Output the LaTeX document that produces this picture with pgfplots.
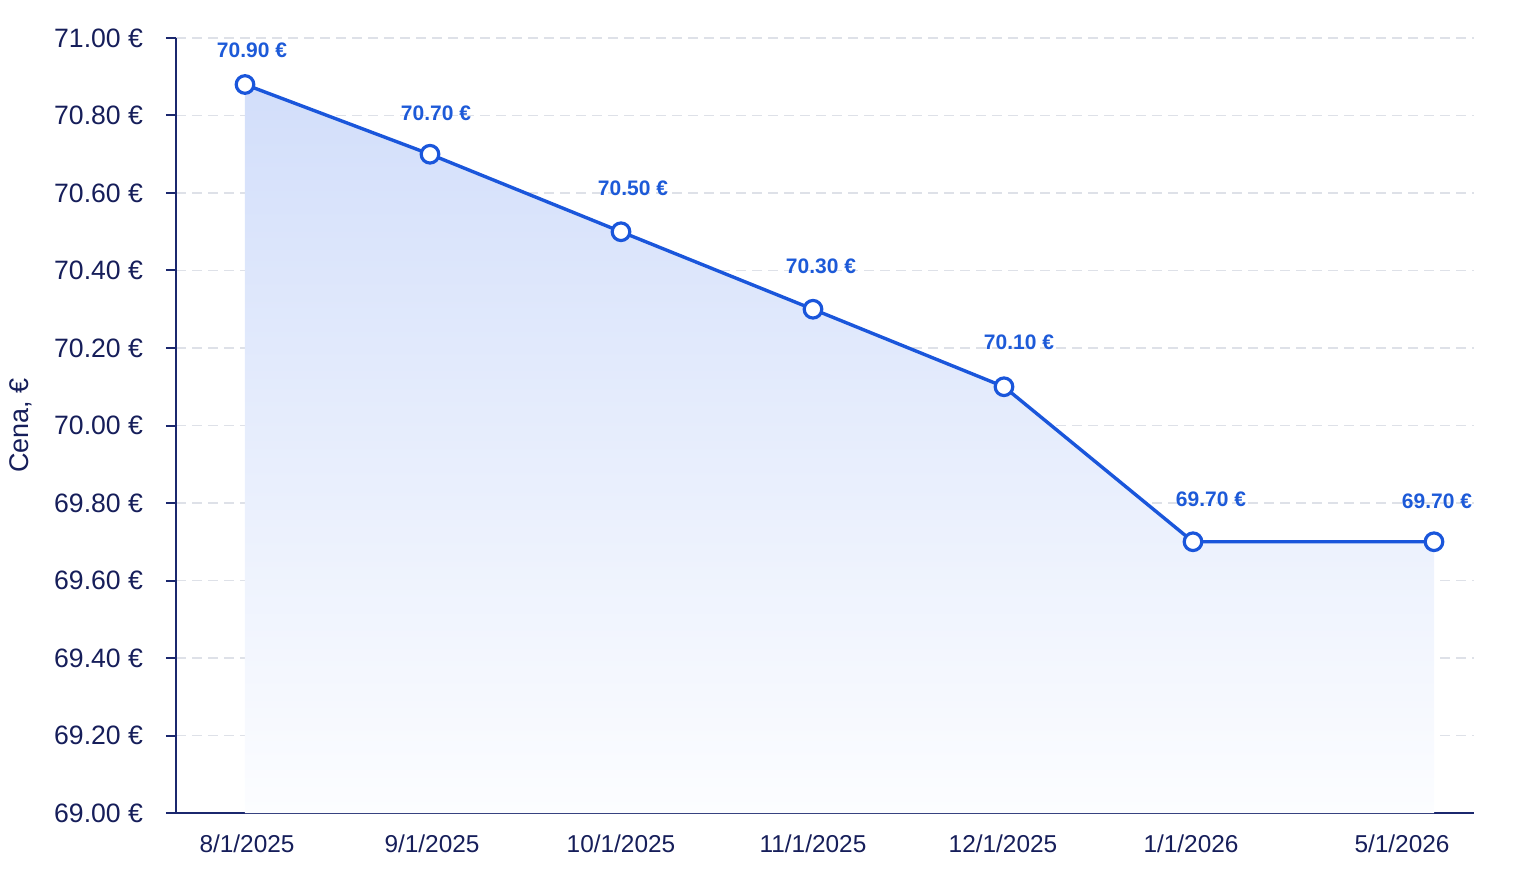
\documentclass[border=0pt]{standalone}
\usepackage{fontspec}
\setmainfont{Liberation Sans}
\usepackage{pgfplots}
\usepackage{pgfplotstable}
\pgfplotsset{compat=1.18}
\definecolor{navy}{RGB}{22,30,90}
\definecolor{axisnavy}{RGB}{27,40,110}
\definecolor{lineblue}{RGB}{26,86,219}
\definecolor{labelblue}{RGB}{29,90,216}
\definecolor{gridgray}{RGB}{222,225,232}
\definecolor{filltop}{RGB}{210,222,250}
\definecolor{fillbot}{RGB}{252,253,255}
\pgfplotstableread[col sep=comma]{
x,y,dx,dy,label
69,70.88,3.5,16.9,70.90 €
254,70.70,3,20.3,70.70 €
445,70.50,6,21.5,70.50 €
637,70.30,4,21.7,70.30 €
828,70.10,7.5,22,70.10 €
1017,69.70,9,21,69.70 €
1258,69.70,1.5,20,69.70 €
}\pricedata
\begin{document}
\begin{tikzpicture}
\useasboundingbox (-88pt,-30.5pt) rectangle (680pt,406.5pt);
\begin{axis}[
  at={(0,0)}, anchor=south west,
  scale only axis, width=649pt, height=387.5pt,
  xmin=0, xmax=1298, ymin=69, ymax=71,
  axis lines=left,
  x axis line style={-}, y axis line style={-},
  axis line style={axisnavy, line width=1pt},
  ytick={69,69.2,69.4,69.6,69.8,70,70.2,70.4,70.6,70.8,71},
  yticklabel={\pgfmathprintnumber[fixed,fixed zerofill,precision=2]{\tick}~€},
  ymajorgrids,
  grid style={gridgray, dash pattern=on 5pt off 3pt, line width=0.6pt},
  xtick={71,256,445,637,827,1015,1226},
  xticklabels={8/1/2025,9/1/2025,10/1/2025,11/1/2025,12/1/2025,1/1/2026,5/1/2026},
  x tick style={draw=none},
  y tick style={axisnavy, line width=1pt},
  tick align=outside, major tick length=5pt,
  /pgf/number format/assume math mode=true,
  yticklabel style={font=\fontsize{13.3}{16}\selectfont, text=navy, xshift=-8pt},
  xticklabel style={font=\fontsize{12.2}{15}\selectfont, text=navy, yshift=-2.5pt},
  ylabel={Cena, €},
  ylabel style={at={(axis description cs:-0.1194,0.5)}, anchor=center, font=\fontsize{13.5}{16}\selectfont, text=navy},
  clip=false,
]
\addplot[draw=none, top color=filltop, bottom color=fillbot, forget plot]
  table[x=x, y=y]{\pricedata} \closedcycle;
\addplot[lineblue, line width=1.7pt, mark=*, mark size=4.4pt,
  mark options={fill=white, draw=lineblue, line width=1.6pt},
  nodes near coords, point meta=explicit symbolic,
  visualization depends on={\thisrow{dx} \as \dx},
  visualization depends on={\thisrow{dy} \as \dy},
  every node near coord/.style={font=\bfseries\fontsize{10.5}{12}\selectfont, text=labelblue, anchor=center, xshift=\dx pt, yshift=\dy pt}]
  table[x=x, y=y, meta=label]{\pricedata};
\end{axis}
\end{tikzpicture}
\end{document}
